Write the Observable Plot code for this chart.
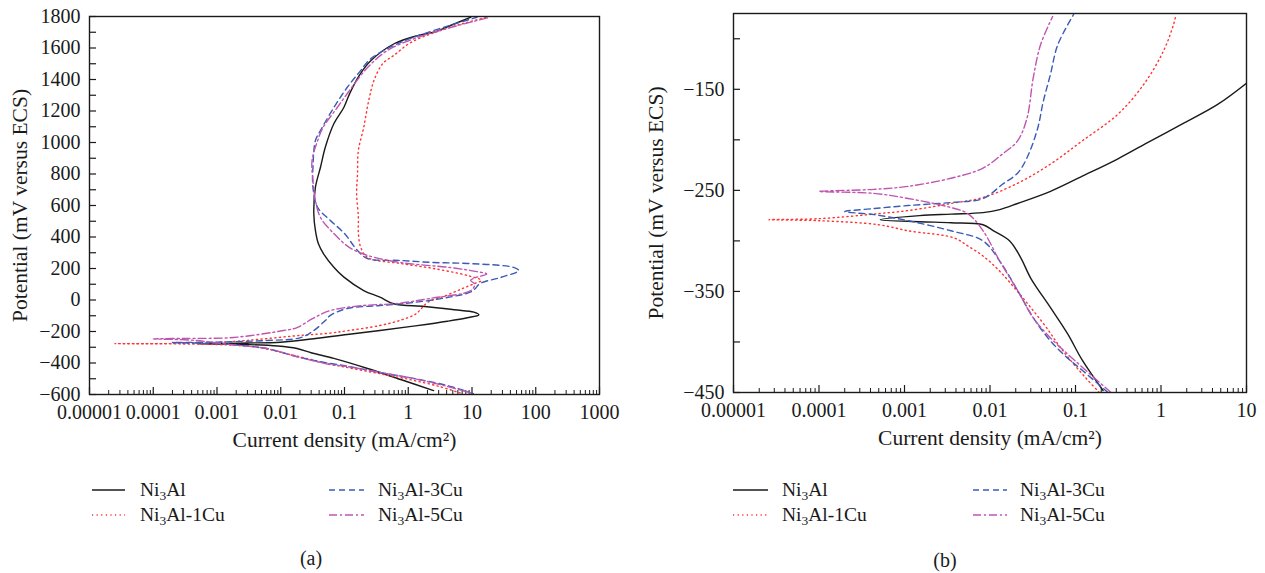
<!DOCTYPE html>
<html><head><meta charset="utf-8">
<script src="https://cdn.jsdelivr.net/npm/d3@7"></script>
<script src="https://cdn.jsdelivr.net/npm/@observablehq/plot@0.6"></script>
<style>
body{margin:0;background:#fff;}
#wrap{position:relative;width:1265px;height:573px;overflow:hidden;font-family:"Liberation Serif","DejaVu Serif",serif;color:#1a1a1a;}
.panel{position:absolute;top:0;}
.leg{position:absolute;font-size:19.5px;line-height:20px;white-space:nowrap;transform:translateY(-50%);}
.leg sub{font-size:13.5px;vertical-align:-4px;line-height:0;}
.sw{position:absolute;}
.cap{position:absolute;font-size:20px;transform:translate(-50%,-50%);}
</style>
</head><body><div id="wrap"></div>
<script>
// ---- series names, colours, styles ----
const seriesNames = ["Ni3Al", "Ni3Al-1Cu", "Ni3Al-3Cu", "Ni3Al-5Cu"];
const seriesColors = ["#1a1a1a", "#ff3333", "#3a5cb8", "#c055b0"];
const seriesDash = ["none", "1.2,3.4", "6,4", "8,3,2,3"];

// ---- panel (a): [current density mA/cm2, potential mV] in scan order ----
const a_Ni3Al = [[2.5,-575],[0.76,-505],[0.23,-435],[0.068,-371],[0.03,-335],[0.018,-308],[0.009,-292],[0.003,-283],[0.001,-280],[0.0005,-278],
 [0.001,-276],[0.003,-273],[0.01,-268],[0.033,-246],[0.11,-219],[0.36,-194],[1.2,-166],[4.1,-135],[8.4,-113],[12.8,-94],[10.7,-77],[5.3,-62],[1.8,-41],[0.59,-24],[0.36,18],[0.2,60],[0.098,145],[0.068,208],[0.047,293],[0.039,357],[0.035,441],[0.033,547],[0.035,716],[0.042,843],[0.05,970],[0.068,1119],[0.098,1224],[0.12,1309],[0.17,1425],[0.26,1520],[0.6,1627],[1.4,1679],[2.5,1700],[4.6,1743],[9.6,1796]];
const a_1Cu = [[6.5,-590],[3,-548],[1,-503],[0.3,-462],[0.1,-425],[0.05,-400],[0.025,-370],[0.012,-340],[0.006,-310],[0.0023,-289],[0.001,-283],[0.0003,-279],[0.000025,-277],
 [0.0003,-276],[0.0018,-263],[0.006,-245],[0.02,-225],[0.06,-210],[0.11,-195],[0.36,-162],[0.8,-125],[1.3,-90],[1.6,-55],[2.0,-16],[4,30],[7.1,73],[11,105],[14,124],[8.4,156],[2.5,200],[0.76,232],[0.23,270],[0.18,333],[0.165,430],[0.165,524],[0.155,676],[0.16,800],[0.165,949],[0.2,1095],[0.24,1267],[0.29,1394],[0.4,1502],[0.59,1552],[1.1,1635],[3.2,1711],[8,1760],[17,1795]];
const a_3Cu = [[10.5,-594],[4.1,-543],[1.2,-498],[0.36,-460],[0.11,-420],[0.06,-403],[0.02,-365],[0.006,-308],[0.002,-285],[0.0008,-276],[0.0002,-270],
 [0.0008,-268],[0.006,-257],[0.02,-240],[0.033,-194],[0.05,-130],[0.06,-98],[0.11,-54],[0.36,-35],[1.2,-16],[4.1,16],[10,55],[13.5,105],[28,143],[54,187],[46,206],[8.5,232],[2.5,238],[0.76,251],[0.23,263],[0.16,314],[0.1,422],[0.06,505],[0.038,587],[0.032,714],[0.032,841],[0.035,1013],[0.042,1076],[0.068,1222],[0.11,1349],[0.17,1445],[0.26,1533],[0.76,1635],[2.5,1711],[12,1795]];
const a_5Cu = [[9.6,-590],[4.1,-549],[1.2,-498],[0.36,-460],[0.11,-422],[0.06,-410],[0.02,-365],[0.006,-308],[0.0018,-285],[0.0004,-255],[0.0001,-247],
 [0.0003,-244],[0.0018,-238],[0.011,-194],[0.018,-175],[0.032,-117],[0.06,-67],[0.2,-35],[0.68,-22],[2.2,10],[9.6,60],[11,100],[9.5,125],[11,140],[17,165],[12,180],[4.6,206],[0.76,238],[0.23,283],[0.12,333],[0.068,422],[0.042,524],[0.035,632],[0.032,759],[0.031,886],[0.038,1013],[0.046,1095],[0.077,1222],[0.12,1330],[0.23,1476],[0.47,1584],[1.4,1667],[4.6,1730],[19,1795]];

// ---- panel (b) ----
const b_Ni3Al = [[0.21,-448],[0.12,-418],[0.081,-392],[0.051,-366],[0.03,-337],[0.023,-317],[0.017,-300],[0.011,-290],[0.0083,-284],[0.0035,-282],[0.0015,-281],[0.00052,-279],
 [0.0015,-275],[0.0035,-273.5],[0.0083,-272],[0.013,-269],[0.021,-263],[0.051,-251],[0.12,-236],[0.31,-219],[0.76,-201],[1.8,-184],[4.6,-165],[10,-144]];
const b_1Cu = [[0.19,-450],[0.13,-435],[0.07,-408],[0.045,-385],[0.03,-366],[0.02,-348],[0.013,-330],[0.0083,-315],[0.0055,-305],[0.0038,-297],[0.0011,-290],[0.0005,-284],[0.0001,-280],[0.000026,-279],
 [0.0001,-278],[0.0005,-273],[0.0011,-270],[0.0035,-263],[0.0083,-257],[0.021,-243],[0.051,-224],[0.12,-201],[0.31,-175],[0.63,-145],[1.07,-112],[1.4,-86],[1.5,-76]];
const b_3Cu = [[0.24,-450],[0.12,-428],[0.081,-416],[0.051,-399],[0.032,-376],[0.021,-349],[0.013,-320],[0.0083,-300],[0.0035,-290],[0.0011,-280],[0.00044,-274],[0.0002,-271],
 [0.00044,-268],[0.0011,-265],[0.0035,-262],[0.0083,-258],[0.014,-244],[0.021,-233],[0.027,-218],[0.036,-189],[0.042,-162],[0.051,-135],[0.062,-106],[0.095,-76]];
const b_5Cu = [[0.26,-450],[0.12,-425],[0.081,-412],[0.051,-396],[0.032,-376],[0.021,-349],[0.013,-320],[0.0083,-290],[0.0055,-273],[0.0035,-267],[0.0011,-258],[0.00044,-253],[0.0001,-251],
 [0.00044,-249],[0.0011,-246],[0.0035,-238],[0.0083,-228],[0.014,-214],[0.021,-201],[0.027,-179],[0.032,-139],[0.039,-106],[0.054,-78]];

// ---- axes ----
const a_xTicks = [1e-5,1e-4,1e-3,1e-2,1e-1,1,10,100,1000];
const a_yTicks = [-600,-400,-200,0,200,400,600,800,1000,1200,1400,1600,1800];
const b_xTicks = [1e-5,1e-4,1e-3,1e-2,1e-1,1,10];
const b_yTicks = [-450,-350,-250,-150];
const xTitle = "Current density (mA/cm²)";
const yTitle = "Potential (mV versus ECS)";
const captions = ["(a)", "(b)"];

const FONT = '"Liberation Serif","DejaVu Serif",serif';
const fmtX = d => String(d);
const fmtY = d => d < 0 ? "\u2212" + (-d) : String(d);

function minorTicks(major) {
  const out = [];
  for (let k = 0; k < major.length - 1; k++) for (let m = 2; m <= 9; m++) out.push(major[k] * m);
  return out;
}

function makePanel(cfg) {
  const {series, xDomain, yDomain, xTicks, yTicks, yMinorStep, width, height, ml, mr, mt, mb, ylabelDx} = cfg;
  const innerW = width - ml - mr, innerH = height - mt - mb;
  const yAll = d3.range(yDomain[0], yDomain[1] + 0.001, yMinorStep);
  const marks = [
    Plot.tickX(minorTicks(xTicks), {x: d => d, insetTop: innerH - 4, stroke: "#1a1a1a", strokeWidth: 1}),
    Plot.tickX(xTicks, {x: d => d, insetTop: innerH - 7, stroke: "#1a1a1a", strokeWidth: 1.2}),
    Plot.tickY(yAll, {y: d => d, insetRight: innerW - 7, stroke: "#1a1a1a", strokeWidth: 1.2}),
    Plot.axisX({ticks: xTicks, tickSize: 0, tickPadding: 10, tickFormat: fmtX, fontSize: 20, label: null}),
    Plot.axisY({ticks: yTicks, tickSize: 0, tickPadding: 9, tickFormat: fmtY, fontSize: 20, label: null}),
  ];
  series.forEach((pts, k) => {
    marks.push(Plot.line(pts, {x: d => d[0], y: d => d[1], stroke: seriesColors[k], strokeWidth: 1.4,
      strokeDasharray: seriesDash[k] === "none" ? undefined : seriesDash[k], curve: "catmull-rom", clip: true}));
  });
  marks.push(Plot.frame({stroke: "#1a1a1a", strokeWidth: 1.4}));
  marks.push(Plot.text([xTitle], {frameAnchor: "bottom", dy: 52, fontSize: 21.5, fill: "#1a1a1a"}));
  marks.push(Plot.text([yTitle], {frameAnchor: "left", textAnchor: "middle", rotate: -90, dx: ylabelDx, fontSize: 21.5, fill: "#1a1a1a"}));
  return Plot.plot({
    width, height, marginLeft: ml, marginRight: mr, marginTop: mt, marginBottom: mb,
    x: {type: "log", domain: xDomain},
    y: {domain: yDomain},
    style: {fontFamily: FONT, fontSize: "20px", color: "#1a1a1a", background: "white", overflow: "visible"},
    marks
  });
}

const wrap = document.getElementById("wrap");
const panels = [
  {left: 0, series: [a_Ni3Al, a_1Cu, a_3Cu, a_5Cu], xDomain: [1e-5, 1e3], yDomain: [-600, 1800], xTicks: a_xTicks, yTicks: a_yTicks,
   yMinorStep: 100, width: 632, height: 430, ml: 89, mr: 33, mt: 16, mb: 36, ylabelDx: -69,
   leg: {line: [92, 125, 329, 364], text: [140, 378]}, cap: [311, 558]},
  {left: 633, series: [b_Ni3Al, b_1Cu, b_3Cu, b_5Cu], xDomain: [1e-5, 10], yDomain: [-450, -75], xTicks: b_xTicks, yTicks: b_yTicks,
   yMinorStep: 50, width: 632, height: 430, ml: 100, mr: 19, mt: 13, mb: 38, ylabelDx: -77,
   leg: {line: [733, 768, 973, 1007], text: [782, 1020]}, cap: [945, 560]}
];

panels.forEach((p, pi) => {
  const div = document.createElement("div");
  div.className = "panel";
  div.style.left = p.left + "px";
  div.appendChild(makePanel(p));
  wrap.appendChild(div);
  // legend
  const rowsY = [490, 515];
  seriesNames.forEach((name, k) => {
    const col = k < 2 ? 0 : 1, row = k % 2;
    const x1 = p.leg.line[col * 2], x2 = p.leg.line[col * 2 + 1], y = rowsY[row];
    const sw = document.createElementNS("http://www.w3.org/2000/svg", "svg");
    sw.setAttribute("class", "sw");
    sw.setAttribute("width", x2 - x1); sw.setAttribute("height", 6);
    sw.style.left = x1 + "px"; sw.style.top = (y - 3) + "px";
    const ln = document.createElementNS("http://www.w3.org/2000/svg", "line");
    ln.setAttribute("x1", 0); ln.setAttribute("x2", x2 - x1); ln.setAttribute("y1", 3); ln.setAttribute("y2", 3);
    ln.setAttribute("stroke", seriesColors[k]); ln.setAttribute("stroke-width", 1.4);
    if (seriesDash[k] !== "none") ln.setAttribute("stroke-dasharray", seriesDash[k]);
    sw.appendChild(ln);
    wrap.appendChild(sw);
    const t = document.createElement("div");
    t.className = "leg";
    t.style.left = p.leg.text[col] + "px"; t.style.top = y + "px";
    t.innerHTML = name.replace("Ni3", "Ni<sub>3</sub>");
    wrap.appendChild(t);
  });
  const c = document.createElement("div");
  c.className = "cap";
  c.style.left = p.cap[0] + "px"; c.style.top = p.cap[1] + "px";
  c.textContent = captions[pi];
  wrap.appendChild(c);
});
</script></body></html>
